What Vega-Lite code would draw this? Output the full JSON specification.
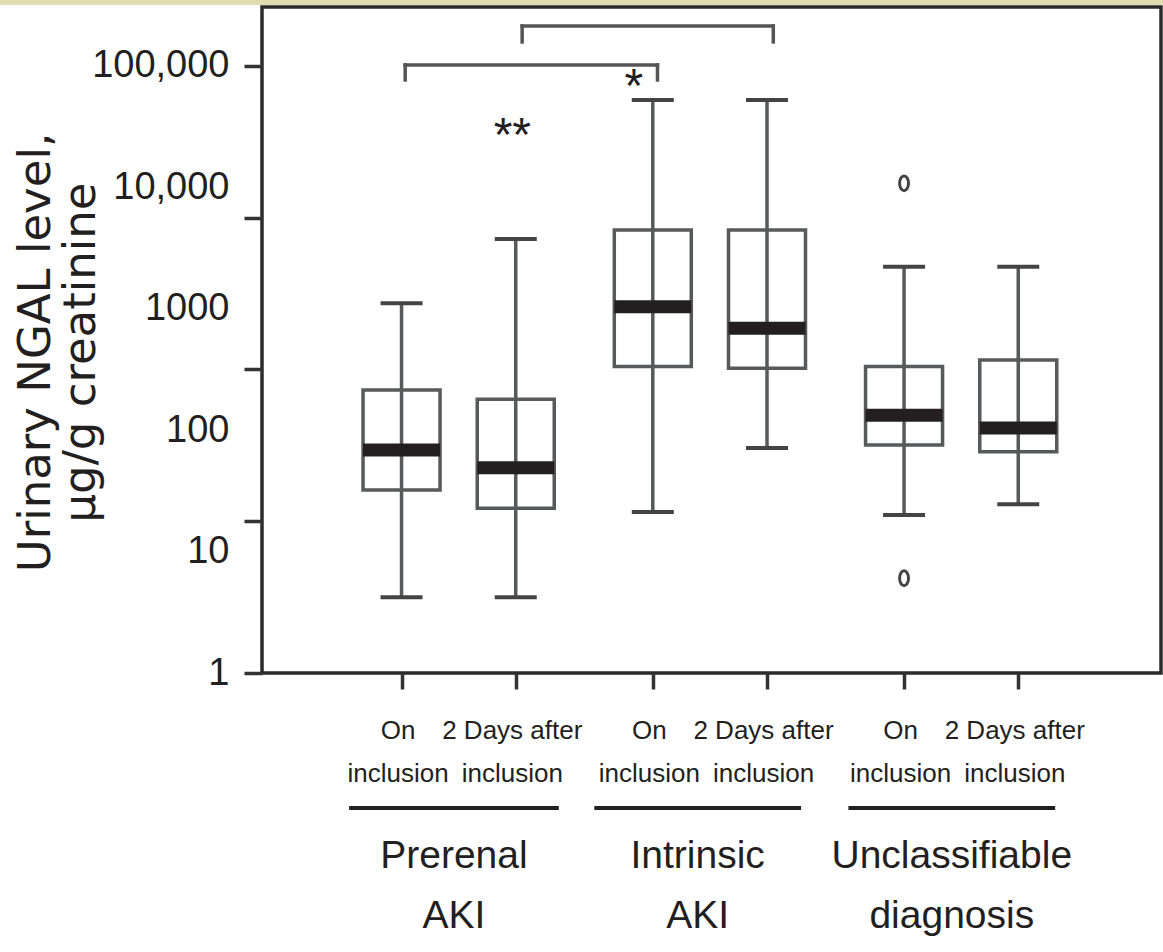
{
  "$schema": "https://vega.github.io/schema/vega-lite/v6.json",
  "width": 899,
  "height": 666,
  "autosize": {"type": "none"},
  "padding": {"left": 262, "top": 7, "right": 2, "bottom": 279},
  "background": "white",
  "config": {
    "view": {"stroke": "#2b2b2b", "strokeWidth": 3.5},
    "axis": {"grid": false}
  },
  "datasets": {
    "boxes": [
      {"group": "Prerenal AKI", "time": "On inclusion", "pos": 1, "lo": 4.2, "q1": 32.2, "med": 68.7, "q3": 214, "hi": 1110},
      {"group": "Prerenal AKI", "time": "2 Days after inclusion", "pos": 2, "lo": 4.2, "q1": 22.7, "med": 49.1, "q3": 180, "hi": 3760},
      {"group": "Intrinsic AKI", "time": "On inclusion", "pos": 3.2, "lo": 21.2, "q1": 334, "med": 1040, "q3": 4460, "hi": 52500},
      {"group": "Intrinsic AKI", "time": "2 Days after inclusion", "pos": 4.2, "lo": 71.3, "q1": 324, "med": 691, "q3": 4460, "hi": 52500},
      {"group": "Unclassifiable diagnosis", "time": "On inclusion", "pos": 5.4, "lo": 20.0, "q1": 75.5, "med": 133, "q3": 334, "hi": 2220},
      {"group": "Unclassifiable diagnosis", "time": "2 Days after inclusion", "pos": 6.4, "lo": 24.5, "q1": 66.5, "med": 104, "q3": 379, "hi": 2220}
    ],
    "outliers": [
      {"pos": 5.4, "v": 10800},
      {"pos": 5.4, "v": 6.03}
    ],
    "brackets": [
      {"x": 1.032, "x2": 3.241, "y": 101900, "y2": 101900},
      {"x": 1.032, "x2": 1.032, "y": 101900, "y2": 76700},
      {"x": 3.241, "x2": 3.241, "y": 101900, "y2": 76700},
      {"x": 2.056, "x2": 4.255, "y": 213600, "y2": 213600},
      {"x": 2.056, "x2": 2.056, "y": 213600, "y2": 157700},
      {"x": 4.255, "x2": 4.255, "y": 213600, "y2": 157700}
    ],
    "stars": [
      {"x": 3.035, "y": 50500, "label": "*"},
      {"x": 1.97, "y": 19950, "label": "**"}
    ],
    "groups": [
      {"x1": 0.541, "x2": 2.377, "xc": 1.459, "name": "Prerenal\nAKI"},
      {"x1": 2.688, "x2": 4.498, "xc": 3.593, "name": "Intrinsic\nAKI"},
      {"x1": 4.913, "x2": 6.723, "xc": 5.818, "name": "Unclassifiable\ndiagnosis"}
    ]
  },
  "layer": [
    {
      "data": {"name": "boxes"},
      "mark": {"type": "bar", "width": 77, "fill": "white", "fillOpacity": 0, "stroke": "#58595b", "strokeWidth": 3.5},
      "encoding": {
        "x": {
          "field": "pos", "type": "quantitative",
          "scale": {"domain": [-0.178, 7.606], "nice": false, "zero": false},
          "axis": {
            "values": [1, 2, 3.2, 4.2, 5.4, 6.4],
            "labelExpr": "indexof([2, 4.2, 6.4], datum.value) >= 0 ? ['2 Days after', 'inclusion'] : ['On', 'inclusion']",
            "labelFont": "Liberation Sans Narrow, Arial Narrow, Liberation Sans, Arial, sans-serif",
            "labelFontSize": 26,
            "labelLineHeight": 43,
            "labelPadding": 28,
            "labelOffset": -4,
            "labelColor": "#231f20",
            "labelOverlap": false,
            "labelFlush": false,
            "labelBound": false,
            "tickSize": 16,
            "tickWidth": 3.5,
            "tickColor": "#333333",
            "domain": false,
            "grid": false,
            "title": null
          }
        },
        "y": {
          "field": "q1", "type": "quantitative",
          "scale": {"type": "log", "domain": [1, 306000], "nice": false},
          "axis": {
            "values": [1, 10, 100, 1000, 10000, 100000, 17.78, 316.2, 5623],
            "labelExpr": "datum.value == 100000 ? '100,000' : datum.value == 10000 ? '10,000' : datum.value == 1000 ? '1000' : datum.value == 100 ? '100' : datum.value == 10 ? '10' : datum.value == 1 ? '1' : ''",
            "labelFont": "Liberation Sans Narrow, Arial Narrow, Liberation Sans, Arial, sans-serif",
            "labelFontSize": 38,
            "labelColor": "#231f20",
            "labelPadding": 15,
            "labelOverlap": false,
            "labelFlush": false,
            "labelBound": false,
            "tickSize": 18,
            "tickWidth": 3.5,
            "tickColor": "#333333",
            "tickOpacity": {"condition": {"test": "datum.value == 10 || datum.value == 100 || datum.value == 1000 || datum.value == 10000", "value": 0}, "value": 1},
            "domain": false,
            "grid": false,
            "title": ["Urinary NGAL level,", "µg/g creatinine"],
            "titleFont": "DejaVu Sans, Liberation Sans, sans-serif",
            "titleFontSize": 45,
            "titleFontWeight": "normal",
            "titleColor": "#231f20",
            "titleLineHeight": 45,
            "titleAngle": 270,
            "titleAlign": "center",
            "titleBaseline": "alphabetic",
            "titleX": -213,
            "titleY": 345
          }
        },
        "y2": {"field": "q3"}
      }
    },
    {
      "data": {"name": "boxes"},
      "mark": {"type": "rule", "stroke": "#58595b", "strokeWidth": 3.5},
      "encoding": {
        "x": {"field": "pos", "type": "quantitative"},
        "y": {"field": "lo", "type": "quantitative"},
        "y2": {"field": "hi"}
      }
    },
    {
      "data": {"name": "boxes"},
      "mark": {"type": "tick", "orient": "horizontal", "size": 42, "thickness": 4, "color": "#444444", "opacity": 1},
      "encoding": {
        "x": {"field": "pos", "type": "quantitative"},
        "y": {"field": "lo", "type": "quantitative"}
      }
    },
    {
      "data": {"name": "boxes"},
      "mark": {"type": "tick", "orient": "horizontal", "size": 42, "thickness": 4, "color": "#444444", "opacity": 1},
      "encoding": {
        "x": {"field": "pos", "type": "quantitative"},
        "y": {"field": "hi", "type": "quantitative"}
      }
    },
    {
      "data": {"name": "boxes"},
      "mark": {"type": "tick", "orient": "horizontal", "size": 77, "thickness": 13, "color": "#231f20", "opacity": 1},
      "encoding": {
        "x": {"field": "pos", "type": "quantitative"},
        "y": {"field": "med", "type": "quantitative"}
      }
    },
    {
      "data": {"name": "outliers"},
      "mark": {"type": "point", "shape": "M0,-1A0.6,1 0 1,1 0,1A0.6,1 0 1,1 0,-1Z", "size": 220, "filled": false, "stroke": "#444444", "strokeWidth": 3, "opacity": 1},
      "encoding": {
        "x": {"field": "pos", "type": "quantitative"},
        "y": {"field": "v", "type": "quantitative"}
      }
    },
    {
      "data": {"name": "brackets"},
      "mark": {"type": "rule", "stroke": "#555555", "strokeWidth": 3.5, "strokeCap": "square"},
      "encoding": {
        "x": {"field": "x", "type": "quantitative"},
        "x2": {"field": "x2"},
        "y": {"field": "y", "type": "quantitative"},
        "y2": {"field": "y2"}
      }
    },
    {
      "data": {"name": "stars"},
      "mark": {"type": "text", "font": "Liberation Sans, Arial, sans-serif", "fontSize": 48, "align": "center", "baseline": "alphabetic", "color": "#231f20"},
      "encoding": {
        "x": {"field": "x", "type": "quantitative"},
        "y": {"field": "y", "type": "quantitative"},
        "text": {"field": "label", "type": "nominal"}
      }
    },
    {
      "data": {"name": "groups"},
      "mark": {"type": "rule", "stroke": "#231f20", "strokeWidth": 4},
      "encoding": {
        "x": {"field": "x1", "type": "quantitative"},
        "x2": {"field": "x2"},
        "y": {"datum": 0.0773, "type": "quantitative"}
      }
    },
    {
      "data": {"name": "groups"},
      "mark": {"type": "text", "font": "Liberation Sans Narrow, Arial Narrow, Liberation Sans, Arial, sans-serif", "fontSize": 39, "align": "center", "baseline": "alphabetic", "lineBreak": "\n", "lineHeight": 60, "color": "#231f20"},
      "encoding": {
        "x": {"field": "xc", "type": "quantitative"},
        "y": {"datum": 0.0248, "type": "quantitative"},
        "text": {"field": "name", "type": "nominal"}
      }
    },
    {
      "data": {"values": [{}]},
      "mark": {"type": "rect", "color": "#e0dcb4"},
      "encoding": {
        "x": {"datum": -3, "type": "quantitative"},
        "x2": {"datum": 8},
        "y": {"datum": 318000, "type": "quantitative"},
        "y2": {"datum": 10000000}
      }
    }
  ]
}
